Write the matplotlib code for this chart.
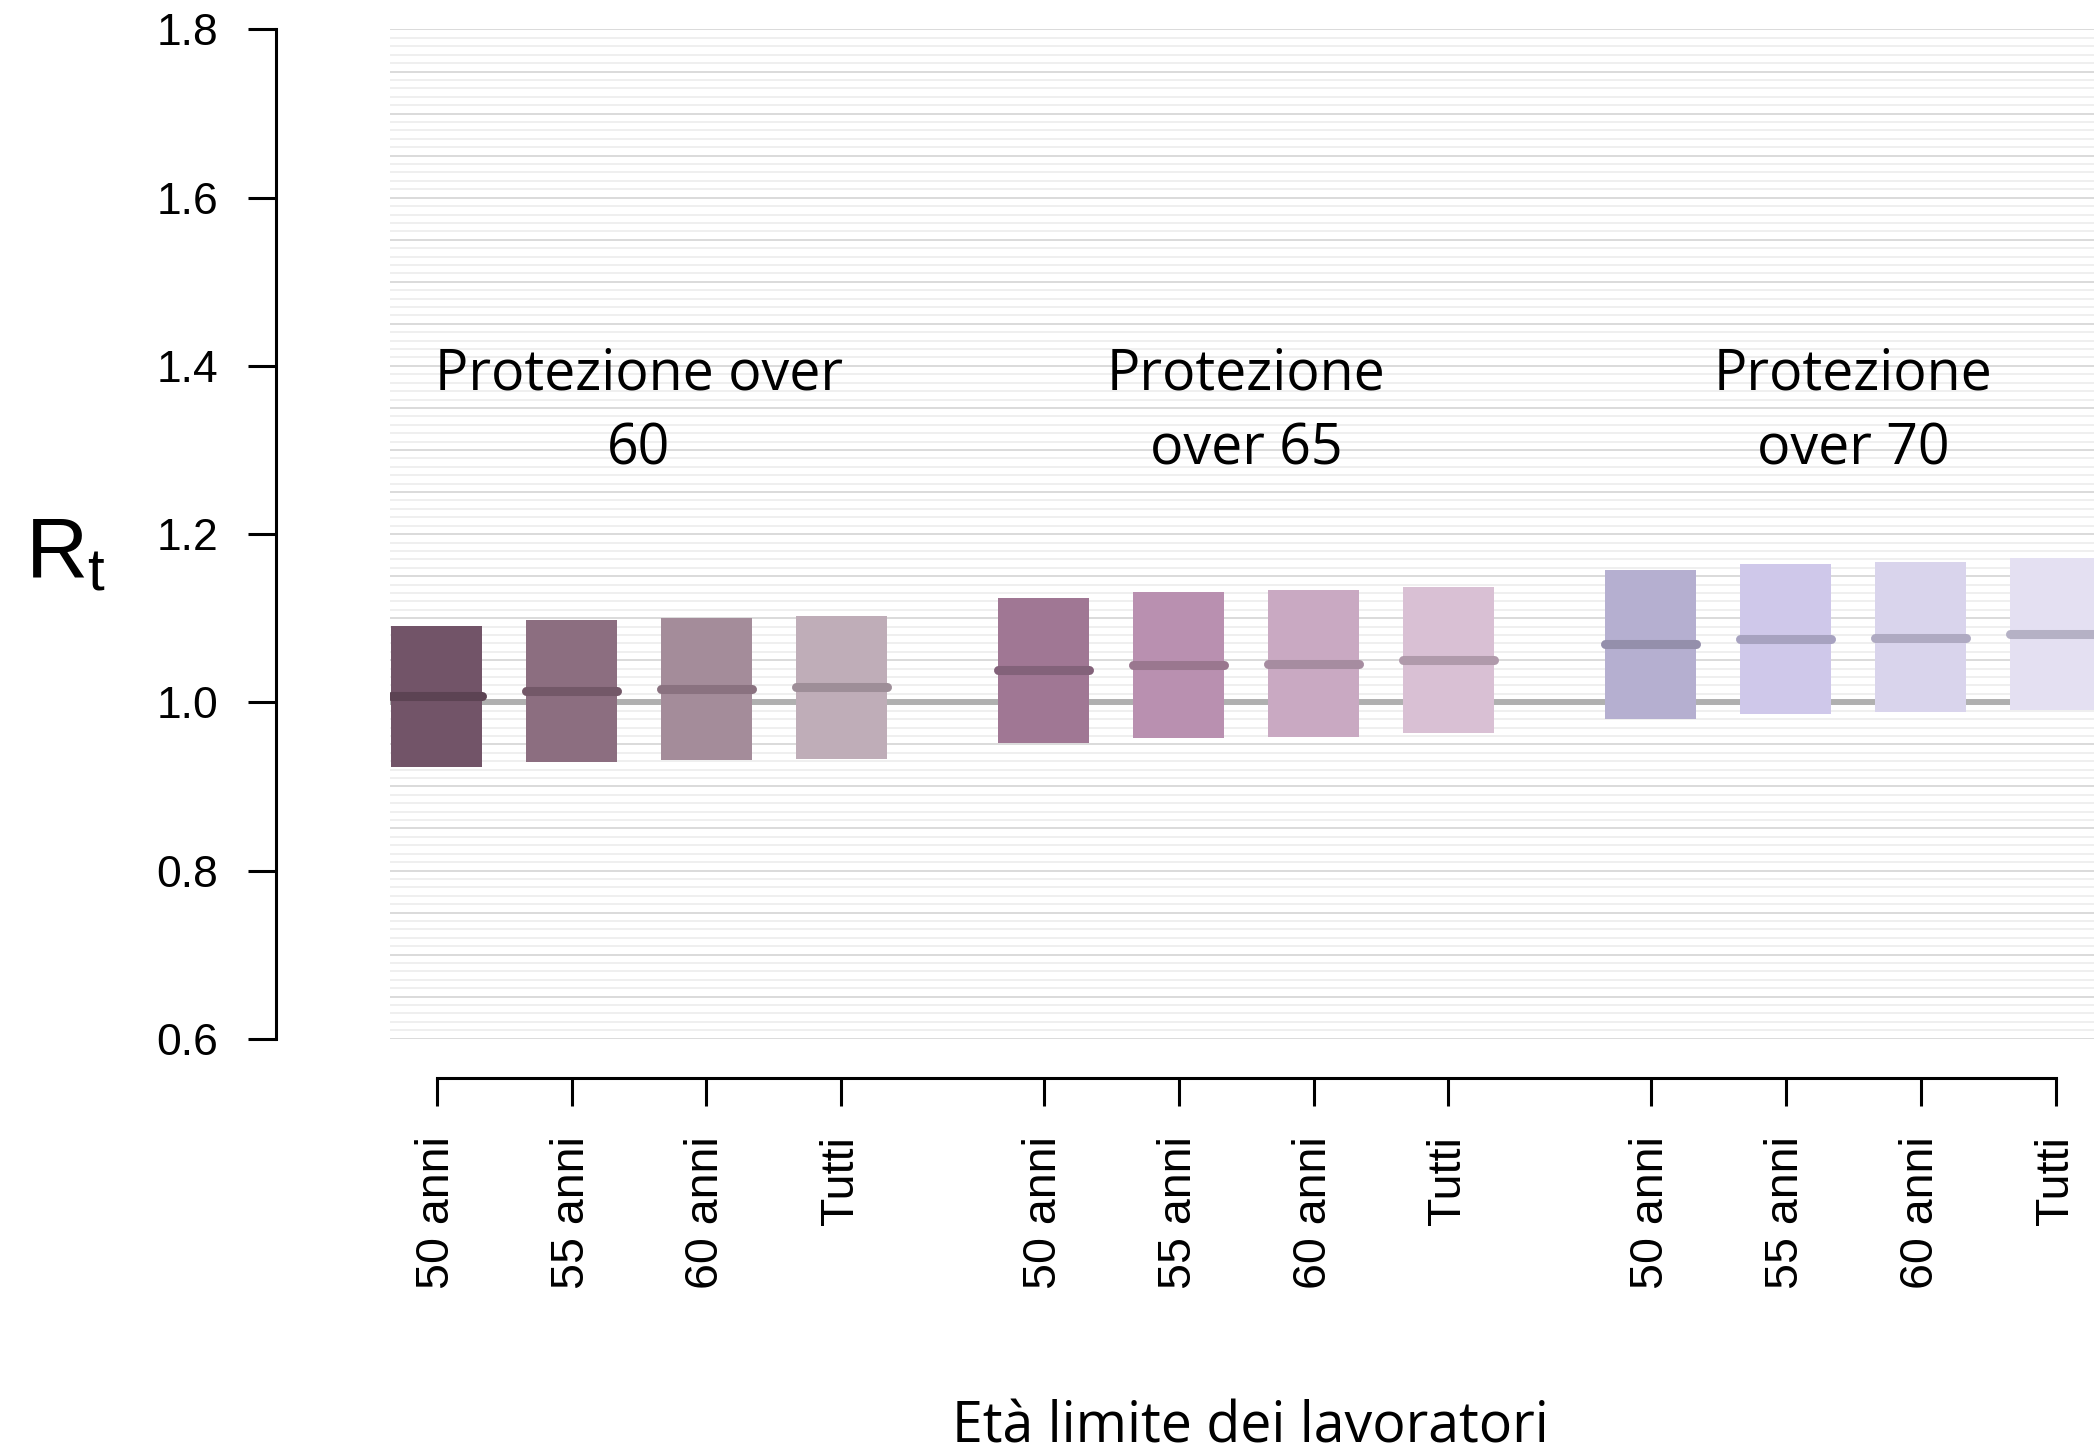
import numpy as np
import matplotlib
matplotlib.use("Agg")
import matplotlib.pyplot as plt

plt.rcParams['font.family'] = ['Liberation Sans', 'DejaVu Sans']
plt.rcParams['mathtext.fontset'] = 'custom'
plt.rcParams['mathtext.rm'] = 'Liberation Sans'
plt.rcParams['mathtext.it'] = 'Liberation Sans:italic'

# scenari di protezione e soglie di età dei lavoratori
gruppi = ["Protezione over\n60", "Protezione\nover 65", "Protezione\nover 70"]
eta_labels = ["50 anni", "55 anni", "60 anni", "Tutti"]

# Rt: limite inferiore, mediana, limite superiore (un valore per barra)
rt_low = [0.923, 0.929, 0.931, 0.933,
          0.952, 0.958, 0.959, 0.963,
          0.980, 0.986, 0.988, 0.991]
rt_med = [1.007, 1.013, 1.016, 1.018,
          1.038, 1.044, 1.046, 1.050,
          1.069, 1.075, 1.077, 1.081]
rt_high = [1.091, 1.098, 1.100, 1.103,
           1.124, 1.131, 1.134, 1.137,
           1.157, 1.165, 1.167, 1.171]

colori_barre = ["#725468", "#8c6e80", "#a48c9a", "#bfadb8",
                "#a07794", "#b990b0", "#c9a9c2", "#d9c0d4",
                "#b5afd0", "#cfc8ea", "#d9d4ec", "#e4e0f2"]
colori_mediana = ["#5c4353", "#735868", "#8a7280", "#9e8e98",
                  "#83627a", "#9a778f", "#a68ca0", "#b09aab",
                  "#948fab", "#a7a2c0", "#afaac2", "#b5b1c5"]

# posizioni: 4 barre per gruppo, spazio di 1.5 tra i gruppi
pos = []
for g in range(len(gruppi)):
    for i in range(len(eta_labels)):
        pos.append(g * 4.5 + i)
pos = np.array(pos)
larghezza = 0.674

fig = plt.figure(figsize=(20.94, 14.48), dpi=100)
ax = fig.add_axes([0.18625, 0.28266, 0.81375, 0.69697])

# griglia di sfondo: righe sottili ogni 0.01, più scure ogni 0.05
for k, yy in enumerate(np.arange(0.6, 1.8001, 0.01)):
    if k % 5 == 0:
        ax.axhline(yy, color="#d8d8d8", lw=1.3, zorder=0)
    else:
        ax.axhline(yy, color="#eeeeee", lw=1.3, zorder=0)

ax.axhline(1.0, color="#b0b0b0", lw=4.3, zorder=1)

altezze = np.array(rt_high) - np.array(rt_low)
ax.bar(pos, altezze, bottom=rt_low, width=larghezza, color=colori_barre,
       edgecolor="none", zorder=2)
for x, m, c in zip(pos, rt_med, colori_mediana):
    ax.plot([x - larghezza / 2, x + larghezza / 2], [m, m], color=c, lw=6.5,
            solid_capstyle="round", zorder=3)

for g, testo in enumerate(gruppi):
    xc = pos[g * 4:(g + 1) * 4].mean()
    ax.text(xc, 1.345, testo, ha="center", va="center", fontsize=40,
            family=["Open Sans", "DejaVu Sans"], linespacing=1.42, zorder=4)

ax.set_xlim(-0.346, 12.285)
ax.set_ylim(0.6, 1.8)

for s in ["top", "right"]:
    ax.spines[s].set_visible(False)
ax.spines["left"].set_position(("outward", 82))
ax.spines["left"].set_bounds(0.6, 1.8)
ax.spines["bottom"].set_position(("outward", 28.3))
ax.spines["bottom"].set_bounds(pos[0], pos[-1])
for s in ["left", "bottom"]:
    ax.spines[s].set_linewidth(2.2)

ax.set_yticks([0.6, 0.8, 1.0, 1.2, 1.4, 1.6, 1.8])
ax.set_yticklabels(["0.6", "0.8", "1.0", "1.2", "1.4", "1.6", "1.8"])
ax.set_xticks(pos)
ax.set_xticklabels(eta_labels * len(gruppi), rotation=90)
ax.tick_params(axis="y", length=20.2, width=2.2, pad=21.6, labelsize=32)
ax.tick_params(axis="x", length=20.2, width=2.2, pad=21.6, labelsize=33.5)

fig.text(0.012, 0.6015, r"$\mathregular{R_t}$", fontsize=62, ha="left",
         va="baseline")
fig.text(0.597, 0.004, "Età limite dei lavoratori", fontsize=40,
         family=["Open Sans", "DejaVu Sans"], ha="center", va="baseline")

fig.savefig("out.png", dpi=100)
